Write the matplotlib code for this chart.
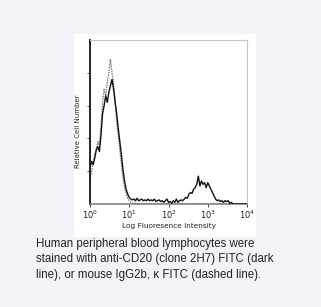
import numpy as np
import matplotlib
matplotlib.use("Agg")
import matplotlib.pyplot as plt

# Channel positions on the log axis (decades, 10^0 .. 10^4)
log_channels = [round(0.04 * i, 2) for i in range(101)]

# Anti-CD20 (clone 2H7) FITC, relative counts per channel
anti_cd20 = [
    0.22, 0.26, 0.24, 0.28, 0.33, 0.35, 0.32, 0.42, 0.55, 0.60,
    0.66, 0.62, 0.68, 0.72, 0.76, 0.70, 0.62, 0.55, 0.46, 0.38,
    0.30, 0.21, 0.14, 0.09, 0.06, 0.04, 0.03, 0.025, 0.03, 0.02,
    0.035, 0.02, 0.025, 0.03, 0.02, 0.025, 0.02, 0.03, 0.02, 0.025,
    0.02, 0.03, 0.015, 0.02, 0.025, 0.015, 0.02, 0.01, 0.02, 0.03,
    0.01, 0.015, 0.005, 0.02, 0.01, 0.03, 0.01, 0.02, 0.025, 0.02,
    0.03, 0.04, 0.035, 0.06, 0.07, 0.065, 0.09, 0.10, 0.12, 0.17,
    0.11, 0.14, 0.12, 0.13, 0.10, 0.13, 0.11, 0.09, 0.07, 0.05,
    0.03, 0.02, 0.025, 0.015, 0.02, 0.01, 0.02, 0.015, 0.02, 0.005,
    0.01, 0.0, 0.0, 0.0, 0.0, 0.0, 0.0, 0.0, 0.0, 0.0, 0.0,
]

# Mouse IgG2b, kappa FITC isotype control
isotype = [
    0.15, 0.20, 0.25, 0.30, 0.33, 0.38, 0.36, 0.48, 0.62, 0.70,
    0.66, 0.74, 0.80, 0.88, 0.80, 0.74, 0.64, 0.50, 0.42, 0.33,
    0.24, 0.16, 0.10, 0.06, 0.035, 0.02, 0.01, 0.005, 0.005, 0.004,
    0.003, 0.002, 0.002, 0.001, 0.0, 0.0, 0.0, 0.0, 0.0, 0.0,
    0.0, 0.0, 0.0, 0.0, 0.0, 0.0, 0.0, 0.0, 0.0, 0.0,
    0.0, 0.0, 0.0, 0.0, 0.0, 0.0, 0.0, 0.0, 0.0, 0.0,
    0.0, 0.0, 0.0, 0.0, 0.0, 0.0, 0.0, 0.0, 0.0, 0.0,
    0.0, 0.0, 0.0, 0.0, 0.0, 0.0, 0.0, 0.0, 0.0, 0.0,
    0.0, 0.0, 0.0, 0.0, 0.0, 0.0, 0.0, 0.0, 0.0, 0.0,
    0.0, 0.0, 0.0, 0.0, 0.0, 0.0, 0.0, 0.0, 0.0, 0.0, 0.0,
]

x_tick_exponents = [0, 1, 2, 3, 4]
x_label = "Log Fluoresence Intensity"
y_label = "Relative Cell Number"
caption = ("Human peripheral blood lymphocytes were\n"
           "stained with anti-CD20 (clone 2H7) FITC (dark\n"
           "line), or mouse IgG2b, \u03ba FITC (dashed line).")

W, H = 321, 307
fig = plt.figure(figsize=(W / 100, H / 100), dpi=100)
fig.patch.set_facecolor("#f4f2f9")

# white card behind the histogram
card = fig.add_axes([74 / W, 1 - 237 / H, (256 - 74) / W, (237 - 34) / H], zorder=0)
card.set_axis_off()
card.add_patch(plt.Rectangle((0, 0), 1, 1, transform=card.transAxes,
                             facecolor="white", edgecolor="none"))

ax = fig.add_axes([90 / W, 1 - 204 / H, (247 - 90) / W, (204 - 40) / H], zorder=2)
ax.set_facecolor("white")

xs = np.power(10.0, log_channels)
ax.plot(xs, isotype, color="#777777", lw=0.9, ls=(0, (1.2, 0.8)), zorder=2)
ax.plot(xs, anti_cd20, color="#111111", lw=1.0, zorder=3)

ax.set_xscale("log")
ax.set_xlim(1, 1e4)
ax.set_ylim(0, 1.0)
ax.set_xticks([10.0 ** e for e in x_tick_exponents])
ax.set_xticklabels([r"$10^{%d}$" % e for e in x_tick_exponents])
ax.xaxis.set_minor_locator(matplotlib.ticker.NullLocator())
ax.set_yticks([0.2, 0.4, 0.6, 0.8])
ax.set_yticklabels([])

ax.tick_params(axis="x", length=2, width=0.6, pad=1.5, labelsize=6,
               colors="#222222", direction="out")
ax.tick_params(axis="y", length=2, width=0.6, colors="#444444", direction="out")

for side in ("top", "right"):
    ax.spines[side].set_color("#c4c4c4")
    ax.spines[side].set_linewidth(0.8)
ax.spines["left"].set_color("#111111")
ax.spines["left"].set_linewidth(1.3)
ax.spines["bottom"].set_color("#7a7a7a")
ax.spines["bottom"].set_linewidth(1.1)

ax.set_xlabel(x_label, fontsize=5.3, color="#222222", labelpad=1.5)
ax.set_ylabel(y_label, fontsize=5.0, color="#222222", labelpad=1)
ax.yaxis.set_label_coords(-0.06, 0.445)

fig.text(36 / W, 1 - 238 / H, caption, ha="left", va="top",
         family="Liberation Sans", fontsize=8.3, color="#222222",
         linespacing=1.38)

fig.savefig("out.png", dpi=100, facecolor=fig.get_facecolor())
